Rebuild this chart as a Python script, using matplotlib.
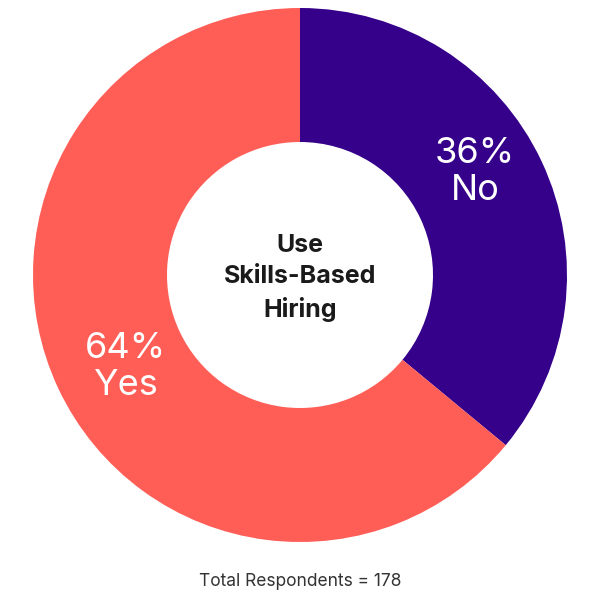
import matplotlib
matplotlib.use("Agg")
import matplotlib.pyplot as plt

labels = ["No", "Yes"]
values = [36, 64]
colors = ["#35008a", "#ff5e57"]

fig = plt.figure(figsize=(6, 6), dpi=100)
ax = fig.add_axes([0, 0, 1, 1])
ax.pie(values, colors=colors, startangle=90, counterclock=False, radius=267,
       center=(0, 0), wedgeprops=dict(width=134, linewidth=0), frame=True)
ax.set_xlim(-300, 300)
ax.set_ylim(-325, 275)
ax.set_aspect("equal")
ax.axis("off")

fam = ["Inter", "DejaVu Sans"]
ax.text(175, 103, f"{values[0]}%\n{labels[0]}", color="white", fontsize=26,
        fontweight="normal", ha="center", va="center", family=fam, linespacing=1.12)
ax.text(-175, -92, f"{values[1]}%\n{labels[1]}", color="white", fontsize=26,
        fontweight="normal", ha="center", va="center", family=fam, linespacing=1.12)
ax.text(0, -3, "Use\nSkills-Based\nHiring", color="#1a1a1a", fontsize=18,
        fontweight="bold", ha="center", va="center", family=fam, linespacing=1.45)
ax.text(0, -307, "Total Respondents = 178", color="#333333", fontsize=12.5,
        ha="center", va="center", family=fam)
fig.savefig("out.png", dpi=100, facecolor="white")
